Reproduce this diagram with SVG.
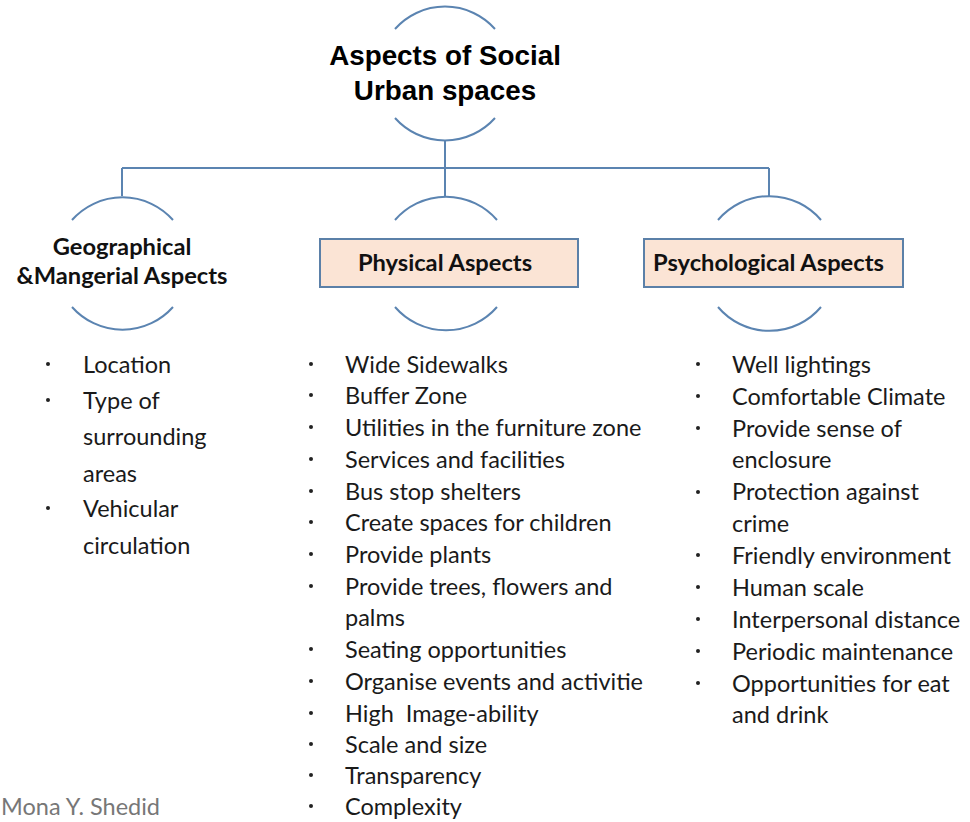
<svg xmlns="http://www.w3.org/2000/svg" width="970" height="822" viewBox="0 0 970 822">
<style>
.ln{fill:none;stroke:#5b84b1;stroke-width:2}
.box{fill:#fbe4d5;stroke:#5b80a8;stroke-width:2}
.hd{font-family:Lato,"Open Sans",sans-serif;font-weight:bold;font-size:23.7px;fill:#111}
.tt{font-family:"Liberation Sans",Arial,sans-serif;font-weight:bold;font-size:27.8px;fill:#000}
.it{font-family:Lato,"Open Sans",sans-serif;font-size:23.5px;fill:#1a1a1a}
.bl{fill:#222}
.ft{font-family:Lato,"Open Sans",sans-serif;font-size:23.5px;fill:#777}
</style>
<defs>
<clipPath id="clipMid"><rect x="0" y="0" width="646" height="822"/></clipPath>
</defs>
<rect width="970" height="822" fill="#fff"/>
<g id="connectors">
<path class="ln" d="M445 140 V168 M122 168 H769 M122 168 V196 M445 168 V196 M769 168 V196"/>
</g>
<g id="root">
<path class="ln" d="M395 29 A67 67 0 0 1 495 29"/>
<path class="ln" d="M395 118 A67 67 0 0 0 495 118"/>
<text class="tt" x="445" y="65" text-anchor="middle">Aspects of Social</text>
<text class="tt" x="445" y="100" text-anchor="middle">Urban spaces</text>
</g>
<g id="geo">
<path class="ln" d="M72 220 A67.5 67.5 0 0 1 173 220"/>
<path class="ln" d="M72 307 A67.5 67.5 0 0 0 173 307"/>
<text class="hd" x="122" y="255" text-anchor="middle">Geographical</text>
<text class="hd" x="122" y="284" text-anchor="middle">&amp;Mangerial Aspects</text>
</g>
<g id="physical">
<path class="ln" d="M395 220 A67.5 67.5 0 0 1 497 220"/>
<path class="ln" d="M395 307 A67.5 67.5 0 0 0 497 307"/>
<rect class="box" x="320" y="239" width="258" height="48"/>
<text class="hd" x="445" y="271" text-anchor="middle">Physical Aspects</text>
</g>
<g id="psychological">
<path class="ln" d="M718 220 A67.5 67.5 0 0 1 821 220"/>
<path class="ln" d="M718 307 A67.5 67.5 0 0 0 821 307"/>
<rect class="box" x="644" y="239" width="259" height="48"/>
<text class="hd" x="653" y="271">Psychological Aspects</text>
</g>
<g id="geo-list">
<circle class="bl" cx="48" cy="364" r="2"/>
<circle class="bl" cx="48" cy="400" r="2"/>
<circle class="bl" cx="48" cy="508" r="2"/>
<text class="it" x="83" y="373">Location</text>
<text class="it" x="83" y="409">Type of</text>
<text class="it" x="83" y="445">surrounding</text>
<text class="it" x="83" y="482">areas</text>
<text class="it" x="83" y="517">Vehicular</text>
<text class="it" x="83" y="554">circulation</text>
</g>
<g id="physical-list">
<g clip-path="url(#clipMid)">
<text class="it" x="345" y="373">Wide Sidewalks</text>
<text class="it" x="345" y="404">Buffer Zone</text>
<text class="it" x="345" y="436">Utilities in the furniture zone</text>
<text class="it" x="345" y="468">Services and facilities</text>
<text class="it" x="345" y="500">Bus stop shelters</text>
<text class="it" x="345" y="531">Create spaces for children</text>
<text class="it" x="345" y="563">Provide plants</text>
<text class="it" x="345" y="595">Provide trees, flowers and</text>
<text class="it" x="345" y="626">palms</text>
<text class="it" x="345" y="658">Seating opportunities</text>
<text class="it" x="345" y="690">Organise events and activitie</text>
<text class="it" x="345" y="722" xml:space="preserve">High  Image-ability</text>
<text class="it" x="345" y="753">Scale and size</text>
<text class="it" x="345" y="784">Transparency</text>
<text class="it" x="345" y="815">Complexity</text>
</g>
<circle class="bl" cx="311" cy="364" r="2"/>
<circle class="bl" cx="311" cy="395" r="2"/>
<circle class="bl" cx="311" cy="427" r="2"/>
<circle class="bl" cx="311" cy="459" r="2"/>
<circle class="bl" cx="311" cy="491" r="2"/>
<circle class="bl" cx="311" cy="522" r="2"/>
<circle class="bl" cx="311" cy="554" r="2"/>
<circle class="bl" cx="311" cy="586" r="2"/>
<circle class="bl" cx="311" cy="649" r="2"/>
<circle class="bl" cx="311" cy="681" r="2"/>
<circle class="bl" cx="311" cy="713" r="2"/>
<circle class="bl" cx="311" cy="744" r="2"/>
<circle class="bl" cx="311" cy="775" r="2"/>
<circle class="bl" cx="311" cy="806" r="2"/>
</g>
<g id="psych-list">
<circle class="bl" cx="698" cy="364" r="2"/>
<circle class="bl" cx="698" cy="396" r="2"/>
<circle class="bl" cx="698" cy="428" r="2"/>
<circle class="bl" cx="698" cy="492" r="2"/>
<circle class="bl" cx="698" cy="555" r="2"/>
<circle class="bl" cx="698" cy="587" r="2"/>
<circle class="bl" cx="698" cy="619" r="2"/>
<circle class="bl" cx="698" cy="651" r="2"/>
<circle class="bl" cx="698" cy="683" r="2"/>
<text class="it" x="732" y="373">Well lightings</text>
<text class="it" x="732" y="405">Comfortable Climate</text>
<text class="it" x="732" y="437">Provide sense of</text>
<text class="it" x="732" y="468">enclosure</text>
<text class="it" x="732" y="500">Protection against</text>
<text class="it" x="732" y="532">crime</text>
<text class="it" x="732" y="564">Friendly environment</text>
<text class="it" x="732" y="596">Human scale</text>
<text class="it" x="732" y="628">Interpersonal distance</text>
<text class="it" x="732" y="660">Periodic maintenance</text>
<text class="it" x="732" y="692">Opportunities for eat</text>
<text class="it" x="732" y="723">and drink</text>
</g>
<g id="footer">
<text class="ft" x="1" y="815">Mona Y. Shedid</text>
</g>
</svg>
